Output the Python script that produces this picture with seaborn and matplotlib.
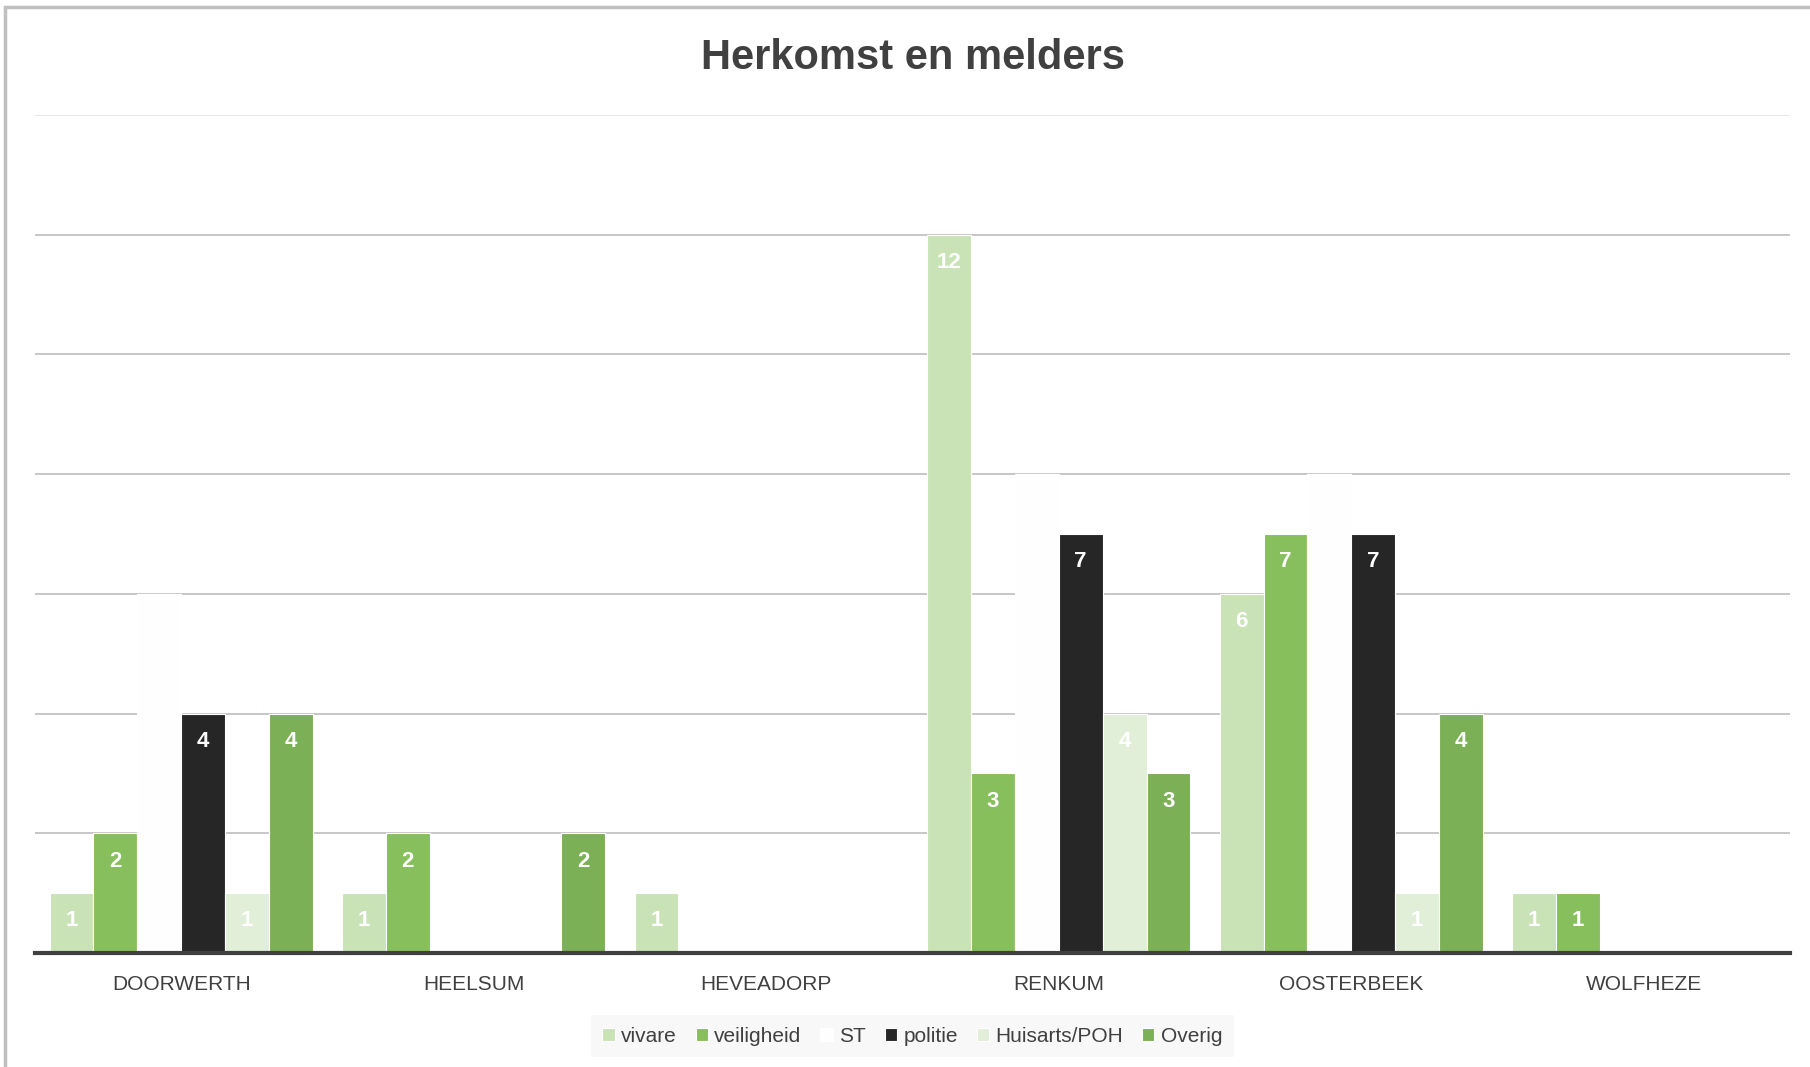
import pandas as pd
import matplotlib.pyplot as plt
import seaborn as sns
from matplotlib.patches import Rectangle

# data
plaatsen = ["DOORWERTH", "HEELSUM", "HEVEADORP", "RENKUM", "OOSTERBEEK", "WOLFHEZE"]
melders = ["vivare", "veiligheid", "ST", "politie", "Huisarts/POH", "Overig"]
vivare = [1, 1, 1, 12, 6, 1]
veiligheid = [2, 2, 0, 3, 7, 1]
st = [6, 0, 0, 8, 8, 0]
politie = [4, 0, 0, 7, 7, 0]
huisarts = [1, 0, 0, 4, 1, 0]
overig = [4, 2, 0, 3, 4, 0]

kleuren = ["#C9E3B7", "#86BF5C", "#FEFEFE", "#262626", "#E1EED8", "#7BB057"]

series = [vivare, veiligheid, st, politie, huisarts, overig]
rows = []
for melder, waarden in zip(melders, series):
    for plaats, v in zip(plaatsen, waarden):
        rows.append({"plaats": plaats, "melder": melder, "aantal": v})
df = pd.DataFrame(rows)

sns.set_style("white")
plt.rcParams['font.family'] = ['Liberation Sans', 'DejaVu Sans']

fig = plt.figure(figsize=(18.1, 10.67), dpi=100)
ax = fig.add_axes([0.0193, 0.1068, 0.9697, 0.7854])

sns.barplot(data=df, x="plaats", y="aantal", hue="melder", order=plaatsen,
            hue_order=melders, palette=kleuren, width=0.9, ax=ax,
            edgecolor="white", linewidth=0.8, saturation=1, legend=True)

ax.set_ylim(0, 14)
ax.set_yticks(range(0, 15, 2))
ax.set_yticklabels([])
ax.tick_params(axis="y", length=0)
ax.yaxis.grid(True, color="#BDBDBD", linewidth=1.2)
ax.set_axisbelow(True)
gl = ax.get_ygridlines()
gl[-1].set_color("#E3E3E3")
gl[0].set_visible(False)
ax.set_xlim(-0.5, len(plaatsen) - 0.5)

for s in ["top", "right", "left"]:
    ax.spines[s].set_visible(False)
ax.spines["bottom"].set_color("#404040")
ax.spines["bottom"].set_linewidth(3)

ax.set_xlabel("")
ax.set_ylabel("")
ax.tick_params(axis="x", length=0, pad=16, labelsize=15, labelcolor="#404040")

# value labels inside bar tops (ST labels are white on white in the original)
for melder, cont in zip(melders, ax.containers):
    if melder == "ST":
        continue
    for p in cont.patches:
        h = p.get_height()
        if h > 0:
            ax.annotate(f"{int(h)}", (p.get_x() + p.get_width() / 2, h),
                        xytext=(0, -20), textcoords="offset points",
                        ha="center", va="center", color="white",
                        fontsize=16, fontweight="bold")

handles, labels = ax.get_legend_handles_labels()
ax.legend_.remove()
leg = fig.legend(handles, labels, loc="center", bbox_to_anchor=(0.504, 0.029),
                 ncol=6, fontsize=15, frameon=True, facecolor="#F7F7F7",
                 edgecolor="none", fancybox=False, handlelength=0.6,
                 handleheight=0.6, handletextpad=0.3, columnspacing=0.9,
                 borderpad=0.55)
for t in leg.get_texts():
    t.set_color("#404040")

fig.text(0.5045, 0.946, "Herkomst en melders", ha="center", va="center",
         fontsize=30, fontweight="bold", color="#404040")

# outer chart border
fig.patches.append(Rectangle((5 / 1810, -0.05), 1.2, 1 - 7 / 1067 + 0.05,
                             transform=fig.transFigure, fill=False,
                             edgecolor="#BFBFBF", linewidth=2.5))

plt.savefig("out.png", dpi=100)
plt.close()
